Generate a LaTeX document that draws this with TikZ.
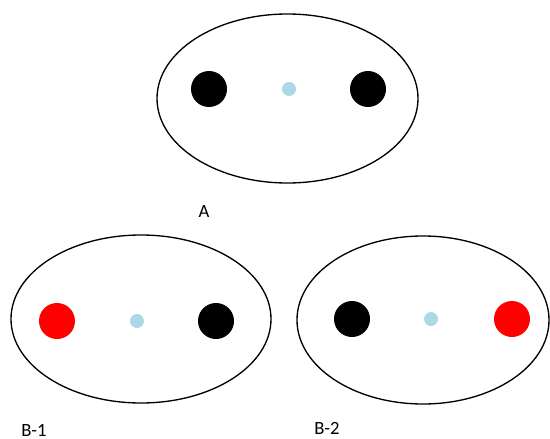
\documentclass[tikz,border=0pt]{standalone}
\usepackage{fontspec}
\setmainfont{Carlito}
\usepackage{xcolor}
\usepackage{tikz}
\definecolor{dotblue}{RGB}{173,216,230}
\tikzset{lbl/.style={font=\fontsize{14}{16}\selectfont,inner sep=0pt}}
\begin{document}
\begin{tikzpicture}[x=0.75pt,y=-0.75pt]
\useasboundingbox (0,0) rectangle (550,439);
\draw[line width=1pt](287.5,98.5) ellipse [x radius=130.5,y radius=84.5];
\fill(209,89) circle (18) (368,89) circle (18);
\fill[dotblue](289,89) circle (7);
\node[lbl] (A) at (204,212) {A};
\draw[line width=1pt](141,319) ellipse [x radius=130,y radius=84];
\fill[red](57,321) circle (18);
\fill[dotblue](137,321) circle (7);
\fill(216,321) circle (18);
\node[lbl] (B1) at (34,430) {B-1};
\draw[line width=1pt](423,320) ellipse [x radius=126,y radius=84];
\fill(352,319) circle (18);
\fill[dotblue](431,319) circle (7);
\fill[red](512,319) circle (18);
\node[lbl] (B2) at (327,428) {B-2};
\end{tikzpicture}
\end{document}
